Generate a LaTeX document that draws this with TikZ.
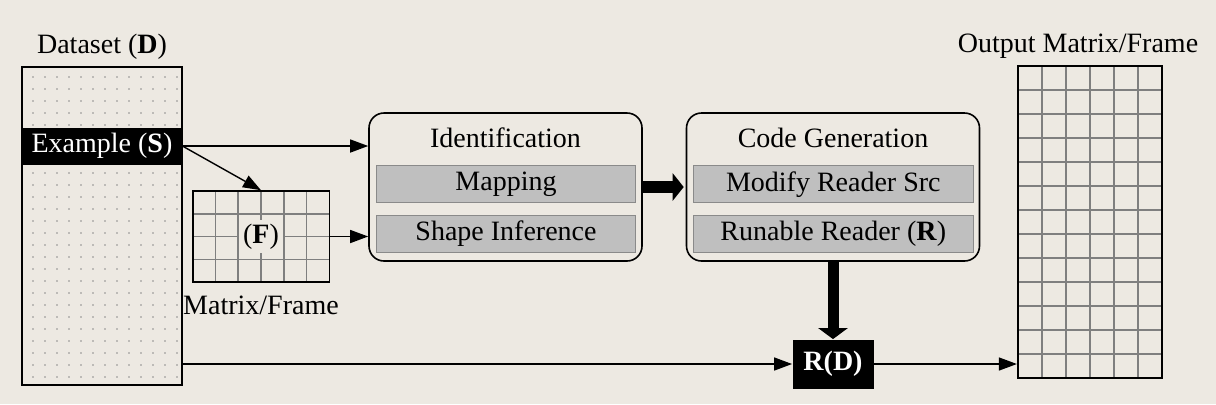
\documentclass[tikz,border=0pt]{standalone}
\usepackage{fontspec}
\setmainfont{Liberation Serif}
\usetikzlibrary{arrows.meta, calc}
\definecolor{paper}{HTML}{EDE9E2}
\definecolor{barfill}{HTML}{BFBFBF}
\definecolor{barline}{HTML}{8A8A8A}
\definecolor{gridline}{HTML}{7F7F7F}
\tikzset{
    stage/.style={draw, line width=0.8pt, rounded corners=7.5pt, minimum width=#1, minimum height=74pt},
    bar/.style={draw=barline, fill=barfill, line width=0.6pt, minimum width=#1, minimum height=18.5pt, inner sep=0pt},
    blk/.style={fill=black, text=white, inner sep=0pt},
    gridln/.style={draw=gridline, line width=0.75pt},
    arr/.style={-{Triangle[length=9pt,width=6.5pt]}, line width=0.7pt},
    fatarr/.style={-{Triangle[length=5.5pt,width=#1]}},
}

\begin{document}
\begin{tikzpicture}[x=0.5pt, y=-0.5pt, font=\fontsize{14}{17}\selectfont]
            \fill[paper] (0,0) rectangle (1216,404);
            \useasboundingbox (0,0) rectangle (1216,404);

            % dataset with its dots
            \foreach \i in {0,...,12} {
                \foreach \j in {0,...,25} {
                    \fill[black!45] (33+12*\i, 77+12*\j) circle (0.45pt);
                }
            }
            \node[draw, line width=0.8pt, minimum width=80pt, minimum height=159pt, inner sep=0pt] (data) at (102,226) {};
            \node[blk, minimum width=80pt, minimum height=18.5pt] (ex) at (102,146) {Example (\textbf{S})};
            \node (datalab) at (102,47) {Dataset (\textbf{D})};

            % sample frame
            \foreach \i in {1,...,5} {
                \draw[gridln] (192.7+22.77*\i,191) -- ++(0,91);
            }
            \foreach \j in {1,...,3} {
                \draw[gridln] (192.7,191+22.75*\j) -- ++(136.6,0);
            }
            \node[draw, line width=0.8pt, minimum width=68.3pt, minimum height=45.5pt, inner sep=0pt] (frame) at (261,236.5) {};
            \node[fill=paper, inner sep=2pt] (framelab) at (frame) {(\textbf{F})};
            \node (framename) at (261,305) {Matrix/Frame};

            % stages
            \node[stage=136.5pt] (ident) at (505.5,187) {};
            \node (identlab) at (505.5,138) {Identification};
            \node[bar=129.8pt] (map) at (506,184.2) {Mapping};
            \node[bar=129.8pt] (shape) at (506,233.8) {Shape Inference};

            \node[stage=146.5pt] (codegen) at (833,187) {};
            \node (codegenlab) at (833,138) {Code Generation};
            \node[bar=139.8pt] (modify) at (833.3,184.2) {Modify Reader Src};
            \node[bar=139.8pt] (runable) at (833.3,233.8) {Runable Reader (\textbf{R})};

            \node[blk, minimum width=40.5pt, minimum height=24.5pt] (rd) at (833,364) {\textbf{R(D)}};

            % output frame
            \foreach \i in {1,...,5} {
                \draw[gridln] (1017.7+24.05*\i,66) -- ++(0,311.7);
            }
            \foreach \j in {1,...,12} {
                \draw[gridln] (1017.7,66+23.98*\j) -- ++(144.3,0);
            }
            \node[draw, line width=0.8pt, minimum width=72.15pt, minimum height=155.85pt, inner sep=0pt] (out) at (1089.85,221.85) {};
            \node (outlab) at (1078,46) {Output Matrix/Frame};

            % connections
            \draw[arr] (ex.east) -- (ex.east -| ident.west);
            \draw[arr] (ex.east) -- (frame.north);
            \draw[arr] (frame.east) -- (frame.east -| ident.west);
            \draw[fatarr=13.5pt, line width=6pt, shorten >=1pt] (ident.east) -- (codegen.west);
            \draw[fatarr=14.5pt, line width=5.5pt] (codegen.south) -- (rd.north);
            \draw[arr] (rd.west -| data.east) -- (rd.west);
            \draw[arr] (rd.east) -- (rd.east -| out.west);
        \end{tikzpicture}
\end{document}
